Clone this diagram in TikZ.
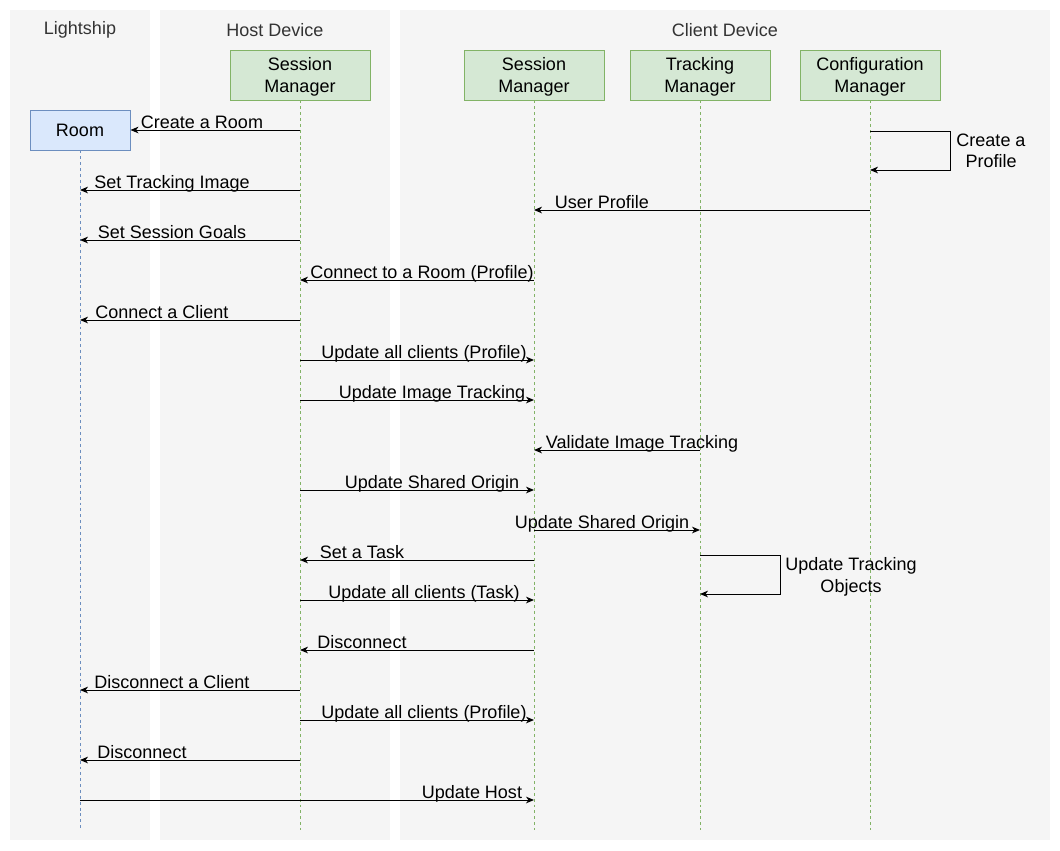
\documentclass[tikz,border=0pt]{standalone}
\usepackage{fontspec}
\setmainfont{Liberation Sans}
\usepackage{xcolor}
\usepackage{tikz}
\usetikzlibrary{arrows.meta}

\definecolor{lanegray}{HTML}{F5F5F5}
\definecolor{lanetext}{HTML}{333333}
\definecolor{actorfill}{HTML}{D5E8D4}
\definecolor{actorline}{HTML}{82B366}
\definecolor{roomfill}{HTML}{DAE8FC}
\definecolor{roomline}{HTML}{6C8EBF}

\begin{document}
\begin{tikzpicture}[x=0.75pt, y=-0.75pt,
    every node/.style={font=\fontsize{13.5}{16}\selectfont},
    lane/.style={fill=lanegray, draw=none},
    lanetitle/.style={text=lanetext},
    actor/.style={draw=actorline, fill=actorfill, line width=0.75pt, align=center, inner sep=0pt, text depth=0pt, minimum width=105pt, minimum height=37.5pt},
    roombox/.style={draw=roomline, fill=roomfill, line width=0.75pt, inner sep=0pt, minimum width=75pt, minimum height=30pt},
    lifeline/.style={draw=actorline, line width=0.6pt, dash pattern=on 2.2pt off 2.2pt},
    msg/.style={draw=black, line width=0.75pt, -{Stealth[length=6pt, width=5pt, inset=1.8pt]}},
    lbl/.style={anchor=base, inner sep=0pt}]
    \useasboundingbox (0,0) rectangle (1060,850);

    % Lanes
    \fill[lane] (10,10) rectangle (150,840);
    \fill[lane] (160,10) rectangle (390,840);
    \fill[lane] (400,10) rectangle (1050,840);
    \node[lanetitle] (lightship) at (80,30) {Lightship};
    \node[lanetitle] (host) at (275,30) {Host Device};
    \node[lanetitle] (client) at (725,30) {Client Device};

    % Participants
    \node[actor] (hostsm) at (300,75) {Session\\Manager};
    \node[actor] (clientsm) at (534,75) {Session\\Manager};
    \node[actor] (tracking) at (700,75) {Tracking\\Manager};
    \node[actor] (config) at (870,75) {Configuration\\Manager};
    \node[roombox] (room) at (80,130) {Room};

    % Lifelines
    \coordinate (roomend) at (80,830);
    \coordinate (hostend) at (300,830);
    \coordinate (clientend) at (534,830);
    \coordinate (trackingend) at (700,830);
    \coordinate (configend) at (870,830);
    \draw[lifeline, draw=roomline] (room.south) -- (roomend);
    \draw[lifeline] (hostsm.south) -- (hostend);
    \draw[lifeline] (clientsm.south) -- (clientend);
    \draw[lifeline] (tracking.south) -- (trackingend);
    \draw[lifeline] (config.south) -- (configend);

    % Messages
    \draw[msg] (hostsm |- 0,130) -- (room.east);
    \node[lbl] (m1) at (202,128) {Create a Room};

    \draw[msg] (config |- 0,131) -| (950,170) -- (config |- 0,170);
    \node[align=center] (m2) at (991,151) {Create a\\Profile};

    \draw[msg] (hostsm |- 0,190) -- (room |- 0,190);
    \node[lbl] (m3) at (172,188) {Set Tracking Image};

    \draw[msg] (config |- 0,210) -- (clientsm |- 0,210);
    \node[lbl] (m4) at (602,208) {User Profile};

    \draw[msg] (hostsm |- 0,240) -- (room |- 0,240);
    \node[lbl] (m5) at (172,238) {Set Session Goals};

    \draw[msg] (clientsm |- 0,280) -- (hostsm |- 0,280);
    \node[lbl] (m6) at (422,278) {Connect to a Room (Profile)};

    \draw[msg] (hostsm |- 0,320) -- (room |- 0,320);
    \node[lbl] (m7) at (162,318) {Connect a Client};

    \draw[msg] (hostsm |- 0,360) -- (clientsm |- 0,360);
    \node[lbl] (m8) at (424,358) {Update all clients (Profile)};

    \draw[msg] (hostsm |- 0,400) -- (clientsm |- 0,400);
    \node[lbl] (m9) at (432,398) {Update Image Tracking};

    \draw[msg] (tracking |- 0,450) -- (clientsm |- 0,450);
    \node[lbl] (m10) at (642,448) {Validate Image Tracking};

    \draw[msg] (hostsm |- 0,490) -- (clientsm |- 0,490);
    \node[lbl] (m11) at (432,488) {Update Shared Origin};

    \draw[msg] (clientsm |- 0,530) -- (tracking |- 0,530);
    \node[lbl] (m12) at (602,528) {Update Shared Origin};

    \draw[msg] (clientsm |- 0,560) -- (hostsm |- 0,560);
    \node[lbl] (m13) at (362,558) {Set a Task};

    \draw[msg] (tracking |- 0,555) -| (780,594) -- (tracking |- 0,594);
    \node[align=center] (m14) at (851,577) {Update Tracking\\Objects};

    \draw[msg] (hostsm |- 0,600) -- (clientsm |- 0,600);
    \node[lbl] (m15) at (424,598) {Update all clients (Task)};

    \draw[msg] (clientsm |- 0,650) -- (hostsm |- 0,650);
    \node[lbl] (m16) at (362,648) {Disconnect};

    \draw[msg] (hostsm |- 0,690) -- (room |- 0,690);
    \node[lbl] (m17) at (172,688) {Disconnect a Client};

    \draw[msg] (hostsm |- 0,720) -- (clientsm |- 0,720);
    \node[lbl] (m18) at (424,718) {Update all clients (Profile)};

    \draw[msg] (hostsm |- 0,760) -- (room |- 0,760);
    \node[lbl] (m19) at (142,758) {Disconnect};

    \draw[msg] (room |- 0,800) -- (clientsm |- 0,800);
    \node[lbl] (m20) at (472,798) {Update Host};
\end{tikzpicture}
\end{document}
